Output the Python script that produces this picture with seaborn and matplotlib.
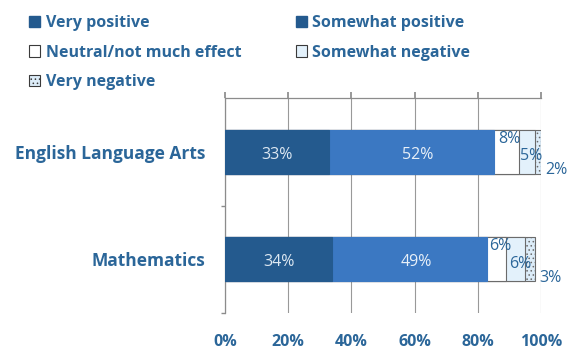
import matplotlib
matplotlib.use("Agg")
import matplotlib.pyplot as plt
from matplotlib.patches import Patch
import numpy as np
import pandas as pd
import seaborn as sns

subjects = ["English Language Arts", "Mathematics"]
response_levels = ["Very positive", "Somewhat positive", "Neutral/not much effect",
                   "Somewhat negative", "Very negative"]
very_positive = [33, 34]
somewhat_positive = [52, 49]
neutral = [8, 6]
somewhat_negative = [5, 6]
very_negative = [2, 3]
x_ticks = [0, 20, 40, 60, 80, 100]
x_tick_labels = ["0%", "20%", "40%", "60%", "80%", "100%"]

series = [very_positive, somewhat_positive, neutral, somewhat_negative, very_negative]
fills = ["#245a8e", "#3b78c2", "#ffffff", "#e3f1fb", "#dcecf8"]
hatches = [None, None, None, None, "...."]
text_blue = "#2b6699"
edge_gray = "#6b6b6b"

sns.set_theme(style="white")
plt.rcParams["font.family"] = ["Open Sans", "DejaVu Sans"]
plt.rcParams["hatch.color"] = "#7aa6cc"
plt.rcParams["hatch.linewidth"] = 0.6

fig = plt.figure(figsize=(5.72, 3.52), dpi=100)
ax = fig.add_axes([225 / 572, 1 - 313 / 352, 316 / 572, 215 / 352])

cum = np.cumsum(np.array(series), axis=0)
df = pd.DataFrame({"subject": subjects})

# stacked bars: draw cumulative totals from the longest to the shortest
for i in range(len(series) - 1, -1, -1):
    df["value"] = cum[i]
    sns.barplot(data=df, x="value", y="subject", orient="h", ax=ax,
                color=fills[i], width=0.41, edgecolor=edge_gray if i >= 2 else fills[i],
                linewidth=0.8, hatch=hatches[i], saturation=1, zorder=3)

ax.set_xlim(0, 100)
ax.set_ylim(1.5, -0.5)
ax.set_xlabel("")
ax.set_ylabel("")

# vertical gridlines and axis styling
ax.set_xticks(x_ticks)
ax.set_xticklabels(x_tick_labels)
ax.xaxis.grid(True, color="#999999", linewidth=0.8, zorder=0)
ax.set_axisbelow(True)
for side in ["bottom", "right"]:
    ax.spines[side].set_visible(False)
for side in ["top", "left"]:
    ax.spines[side].set_visible(True)
    ax.spines[side].set_color("#8c8c8c")
    ax.spines[side].set_linewidth(0.9)
ax.tick_params(axis="x", bottom=False, top=True, labelbottom=True, labeltop=False,
               direction="out", length=4, color="#8c8c8c", pad=17)
for lab in ax.get_xticklabels():
    lab.set_fontweight("bold")
    lab.set_fontsize(11.5)
    lab.set_color(text_blue)
    lab.set_va("center")

ax.set_yticks([0, 1])
ax.set_yticklabels(subjects)
ax.set_yticks([0.5, 1.5], minor=True)
ax.tick_params(axis="y", which="major", length=0, pad=14)
ax.tick_params(axis="y", which="minor", left=True, length=3, color="#8c8c8c", direction="out")
for lab in ax.get_yticklabels():
    lab.set_fontweight("bold")
    lab.set_fontsize(12.5)
    lab.set_color(text_blue)

# value labels
fs = 11.5
for j in range(len(subjects)):
    starts = np.concatenate([[0], cum[:-1, j]])
    for i, vals in enumerate(series):
        v = vals[j]
        x0 = starts[i]
        xc = x0 + v / 2
        txt = f"{v}%"
        if i == 0:
            ax.text(xc, j + 0.03, txt, ha="center", va="center", fontsize=fs,
                    color="#dde8f2", zorder=5)
        elif i == 1:
            ax.text(xc + 2, j + 0.03, txt, ha="center", va="center", fontsize=fs,
                    color="#e8f0f8", zorder=5)
        elif i == 2:
            ax.text(xc + 1, j - 0.12, txt, ha="center", va="center", fontsize=fs,
                    color=text_blue, zorder=5)
        elif i == 3:
            ax.text(xc + 1.5, j + 0.04, txt, ha="center", va="center", fontsize=fs,
                    color=text_blue, zorder=5, clip_on=False)
        else:
            ax.text(x0 + v + 1.5, j + 0.17, txt, ha="left", va="center", fontsize=fs,
                    color=text_blue, zorder=5, clip_on=False)

# legend
handles = [
    Patch(facecolor=fills[0], edgecolor=fills[0]),
    Patch(facecolor="#ffffff", edgecolor="#3a3a3a", linewidth=0.8),
    Patch(facecolor="#dcecf8", edgecolor="#3a3a3a", linewidth=0.8, hatch="...."),
    Patch(facecolor=fills[0], edgecolor=fills[0]),
    Patch(facecolor=fills[3], edgecolor="#3a3a3a", linewidth=0.8),
]
labels = [response_levels[0], response_levels[2], response_levels[4],
          response_levels[1], response_levels[3]]
leg = fig.legend(handles, labels, loc="upper left", bbox_to_anchor=(29 / 572, 1 - 15 / 352),
                 ncol=2, frameon=False, handlelength=0.7, handleheight=0.7,
                 handletextpad=0.35, labelspacing=0.85, columnspacing=3.4,
                 borderpad=0, borderaxespad=0,
                 prop={"weight": "bold", "size": 11.5})
for t in leg.get_texts():
    t.set_color(text_blue)

fig.savefig("out.png", dpi=100)
